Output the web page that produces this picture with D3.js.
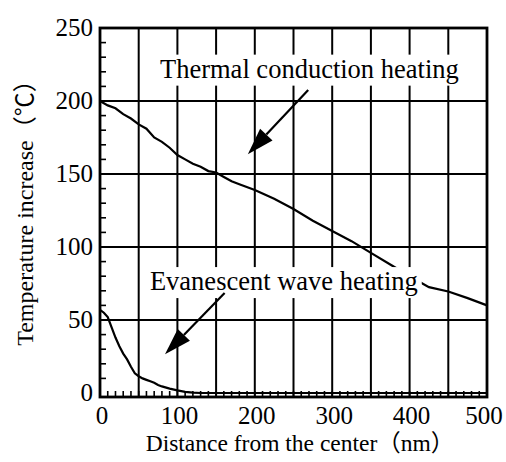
<!DOCTYPE html>
<html>
<head>
<meta charset="utf-8">
<script src="https://cdn.jsdelivr.net/npm/d3@7"></script>
<style>
  body { margin: 0; background: #fff; }
  text { font-family: "Liberation Serif", "Times New Roman", "Noto Sans CJK JP", serif; fill: #000; }
</style>
</head>
<body>
<script>
// Thermal conduction heating curve (nm, degC)
var thermalX = [0, 10, 20, 30, 40, 50, 60, 70, 80, 90, 100, 110, 120, 130, 140, 150, 160, 170, 180, 200, 225, 250, 275, 300, 325, 350, 375, 400, 425, 450, 475, 500];
var thermalY = [200, 197, 195, 191, 188, 184, 181, 175, 172, 168, 163, 160, 157, 155, 152, 151, 148, 145, 143, 139, 133, 126, 118, 111, 104, 96, 88, 80, 72.5, 69.5, 65, 60];

// Evanescent wave heating curve
var evanX = [0, 5, 10, 15, 20, 25, 30, 35, 40, 45, 50, 55, 60, 65, 70, 75, 80, 90, 100, 110, 120, 130, 200, 300, 400, 500];
var evanY = [57, 55, 52, 45, 38, 32, 27, 23, 18, 13.5, 11.5, 10, 9, 8, 7, 5.5, 4.5, 3, 1.8, 0.8, 0.2, 0, 0, 0, 0, 0];

var xTicks = [0, 100, 200, 300, 400, 500];
var yTicks = [0, 50, 100, 150, 200, 250];
var xGrid  = [50, 100, 150, 200, 250, 300, 350, 400, 450];
var yGrid  = [50, 100, 150, 200];
var xMinor = d3.range(10, 500, 10);
var yMinor = d3.range(10, 250, 10);

// labels, anchored in data units
var labels = [
    { text: 'Thermal conduction heating', x: 77.5, y: 216 },
    { text: 'Evanescent wave heating',    x: 64.5, y: 70.5 }
];
// arrows: from -> tip, data units
var arrows = [
    { x0: 269, y0: 207.5, x1: 191, y1: 163.5 },
    { x0: 161, y0: 68.5,  x1: 84,  y1: 26.5 }
];

var width = 506, height = 462;

var xScale = d3.scaleLinear().domain([0, 500]).range([100, 487]);
var yScale = d3.scaleLinear().domain([0, 250]).range([393, 28]);

var svg = d3.select('body').append('svg')
    .attr('width', width)
    .attr('height', height);

// grid
svg.append('g').selectAll('line').data(xGrid).enter().append('line')
    .attr('x1', function(d) { return xScale(d); })
    .attr('x2', function(d) { return xScale(d); })
    .attr('y1', 28).attr('y2', 397)
    .style('stroke', '#000').style('stroke-width', 2);

svg.append('g').selectAll('line').data(yGrid).enter().append('line')
    .attr('x1', 100).attr('x2', 487)
    .attr('y1', function(d) { return yScale(d); })
    .attr('y2', function(d) { return yScale(d); })
    .style('stroke', '#000').style('stroke-width', 2);

// curves
var line = d3.line()
    .x(function(d) { return xScale(d[0]); })
    .y(function(d) { return yScale(d[1]); });

svg.append('path')
    .attr('d', line(d3.zip(thermalX, thermalY)))
    .style('fill', 'none').style('stroke', '#000').style('stroke-width', 2.2);

svg.append('path')
    .attr('d', line(d3.zip(evanX, evanY)))
    .style('fill', 'none').style('stroke', '#000').style('stroke-width', 2.2);

// labels with white box behind
labels.forEach(function(l) {
    var g = svg.append('g');
    var t = g.append('text')
        .attr('x', xScale(l.x))
        .attr('y', yScale(l.y))
        .style('font-size', '26.5px')
        .text(l.text);
    var bb = t.node().getBBox();
    g.insert('rect', 'text')
        .attr('x', bb.x - 4).attr('y', bb.y + 1)
        .attr('width', bb.width + 8).attr('height', bb.height + 1)
        .style('fill', '#fff');
});

// arrows
arrows.forEach(function(a) {
    var x0 = xScale(a.x0), y0 = yScale(a.y0),
        x1 = xScale(a.x1), y1 = yScale(a.y1);
    var dx = x1 - x0, dy = y1 - y0, len = Math.sqrt(dx * dx + dy * dy);
    var ux = dx / len, uy = dy / len;
    var headLen = 27, headW = 8.5;
    var bx = x1 - ux * headLen, by = y1 - uy * headLen;
    svg.append('line')
        .attr('x1', x0).attr('y1', y0).attr('x2', bx).attr('y2', by)
        .style('stroke', '#000').style('stroke-width', 2.2);
    svg.append('path')
        .attr('d', 'M' + x1 + ',' + y1 +
            ' L' + (bx - uy * headW) + ',' + (by + ux * headW) +
            ' L' + (bx + uy * headW) + ',' + (by - ux * headW) + ' Z')
        .style('fill', '#000');
});

// minor ticks inward
svg.append('g').selectAll('line').data(yMinor).enter().append('line')
    .attr('x1', 100).attr('x2', 106)
    .attr('y1', function(d) { return yScale(d); })
    .attr('y2', function(d) { return yScale(d); })
    .style('stroke', '#000').style('stroke-width', 1.6);

svg.append('g').selectAll('line').data(xMinor).enter().append('line')
    .attr('x1', function(d) { return xScale(d); })
    .attr('x2', function(d) { return xScale(d); })
    .attr('y1', 397).attr('y2', 391)
    .style('stroke', '#000').style('stroke-width', 1.6);

// frame
svg.append('rect')
    .attr('x', 100).attr('y', 28)
    .attr('width', 387).attr('height', 369)
    .style('fill', 'none').style('stroke', '#000').style('stroke-width', 2.8);

// tick labels
svg.append('g').selectAll('text').data(yTicks).enter().append('text')
    .attr('x', 93)
    .attr('y', function(d) { return yScale(d) + 8; })
    .attr('text-anchor', 'end')
    .style('font-size', '25px')
    .text(function(d) { return d; });

svg.append('g').selectAll('text').data(xTicks).enter().append('text')
    .attr('x', function(d) { return d == 500 ? xScale(d) - 3 : xScale(d) + 2; })
    .attr('y', 424)
    .attr('text-anchor', 'middle')
    .style('font-size', '25px')
    .text(function(d) { return d; });

// axis titles
svg.append('text')
    .attr('x', 300).attr('y', 451)
    .attr('text-anchor', 'middle')
    .style('font-size', '23.5px')
    .text('Distance from the center（nm）');

svg.append('text')
    .attr('transform', 'translate(33,207) rotate(-90)')
    .attr('text-anchor', 'middle')
    .style('font-size', '24px')
    .text('Temperature increase（℃）');
</script>
</body>
</html>
